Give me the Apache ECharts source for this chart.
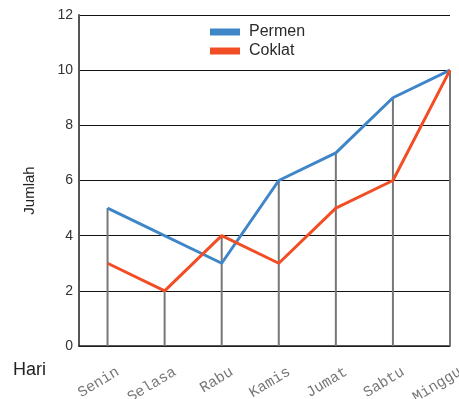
<!DOCTYPE html>
<html>
<head>
<meta charset="utf-8">
<script src="https://cdn.jsdelivr.net/npm/echarts@6/dist/echarts.min.js"></script>
<style>
  html, body { margin: 0; padding: 0; background: #fff; }
  #chart { width: 459px; height: 399px; }
</style>
</head>
<body>
<div id="chart"></div>
<script>
// Days of the week and the daily counts per product
const days = ['Senin', 'Selasa', 'Rabu', 'Kamis', 'Jumat', 'Sabtu', 'Minggu'];
const permen = [5, null, 3, 6, 7, 9, 10];
const coklat = [3, 2, 4, 3, 5, 6, 10];
const yTicks = [0, 2, 4, 6, 8, 10, 12];

// Drop lines reach up to the highest recorded value of each day
const dropHeights = days.map((d, i) => {
  const vals = [permen[i], coklat[i]].filter(v => v != null);
  return Math.max.apply(null, vals);
});

const toPoints = arr => arr.map((v, i) => [i, v]);
const sans = 'Liberation Sans, Arial, sans-serif';

const chart = echarts.init(document.getElementById('chart'), null, { renderer: 'canvas' });
chart.setOption({
  animation: false,
  backgroundColor: '#fff',
  grid: { left: 79, right: 9, top: 15, bottom: 53, containLabel: false, outerBoundsMode: 'none' },
  legend: {
    orient: 'vertical',
    left: 210, top: 24,
    padding: 0,
    icon: 'rect',
    itemWidth: 30, itemHeight: 7, itemGap: 3,
    textStyle: { fontFamily: sans, fontSize: 16, color: '#2a2a2a', padding: [0, 0, 0, 4] },
    data: ['Permen', 'Coklat']
  },
  xAxis: {
    type: 'value',
    min: -0.5, max: days.length - 1,
    splitLine: { show: false },
    axisLine: { show: true, onZero: false, lineStyle: { color: '#222', width: 1.5 } },
    axisTick: { show: false },
    axisLabel: {
      customValues: days.map((d, i) => i),
      formatter: v => days[v] || '',
      rotate: 31,
      margin: 31,
      padding: [0, -12, 0, 0],
      fontFamily: 'Liberation Mono, Courier New, monospace',
      fontSize: 15,
      color: '#777'
    }
  },
  yAxis: {
    type: 'value',
    min: 0, max: 12, interval: 2,
    name: 'Jumlah',
    nameLocation: 'middle',
    nameGap: 42,
    nameTextStyle: {
      fontFamily: 'Liberation Sans Narrow, Liberation Sans, Arial, sans-serif',
      fontSize: 15, color: '#222', padding: [0, 20, 0, 0]
    },
    axisLine: { show: true, onZero: false, lineStyle: { color: '#555', width: 2 } },
    axisTick: { show: false },
    axisLabel: {
      customValues: yTicks,
      margin: 6,
      fontFamily: sans, fontSize: 14, color: '#333'
    },
    splitLine: { show: true, lineStyle: { color: '#111', width: 1 } }
  },
  graphic: [{
    type: 'text', left: 13, top: 361,
    style: { text: 'Hari', fontFamily: sans, fontSize: 18, fill: '#222' }
  }],
  series: [
    {
      name: 'drop',
      type: 'bar',
      data: toPoints(dropHeights),
      barWidth: 2,
      itemStyle: { color: '#777' },
      silent: true,
      z: 1
    },
    {
      name: 'Permen',
      type: 'line',
      data: toPoints(permen),
      connectNulls: true,
      showSymbol: false,
      lineStyle: { color: '#3f86c8', width: 3 },
      itemStyle: { color: '#3f86c8' },
      z: 3
    },
    {
      name: 'Coklat',
      type: 'line',
      data: toPoints(coklat),
      showSymbol: false,
      lineStyle: { color: '#f24e25', width: 3 },
      itemStyle: { color: '#f24e25' },
      z: 4
    }
  ]
});
</script>
</body>
</html>
